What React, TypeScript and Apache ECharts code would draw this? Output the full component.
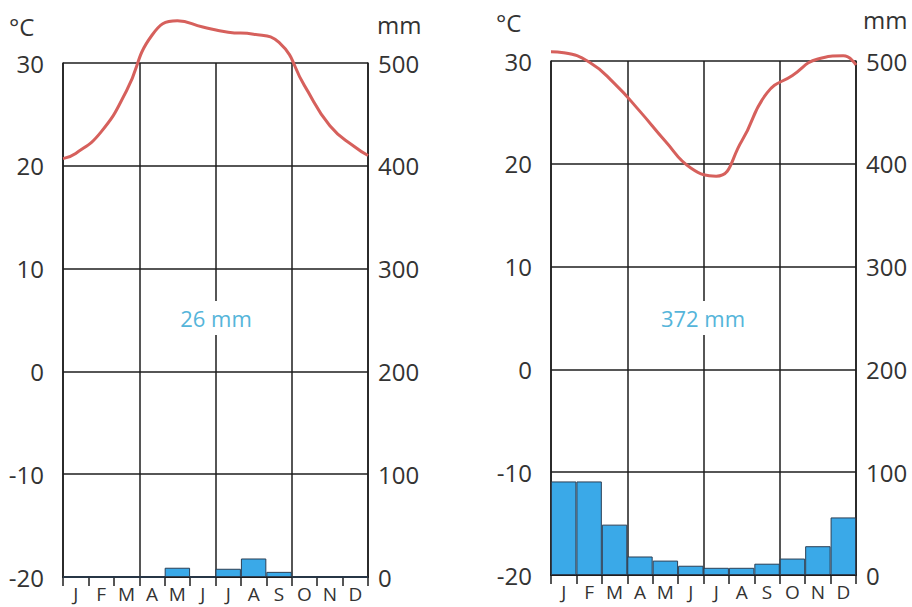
import React, { useEffect, useRef } from 'react';
import * as echarts from 'echarts';

// Month labels (x axis)
const months = ['J', 'F', 'M', 'A', 'M', 'J', 'J', 'A', 'S', 'O', 'N', 'D'];

// Left station: monthly mean temperature (°C) read at month centres, plus curve ends at the plot edges
const tempLeft = [21.2, 23.3, 27.3, 32.7, 34.1, 33.5, 33.0, 32.8, 32.0, 27.8, 23.9, 21.8];
const tempLeftEdges = [20.7, 21.0];
// Left station: monthly precipitation (mm)
const precipLeft = [0, 0, 0, 0, 9, 0, 8, 18, 5, 0, 0, 0];
const totalLeft = '26 mm';

// Right station
const tempRight = [30.8, 29.9, 27.8, 25.1, 22.2, 19.6, 18.8, 22.2, 26.9, 28.6, 30.2, 30.5];
const tempRightEdges = [30.9, 29.6];
const precipRight = [91, 91, 49, 18, 14, 9, 7, 7, 11, 16, 28, 56];
const totalRight = '372 mm';

// Axis ranges
const tempMin = -20;
const tempMax = 30;
const tempStep = 10;
const precipMin = 0;
const precipMax = 500;
const precipStep = 100;

const FONT = '"Open Sans", "Noto Sans", sans-serif';
const TEXT = '#333';
const LINE = '#1e1e1e';

function lineData(vals: number[], edges: number[]) {
  const d: number[][] = [[0, edges[0]]];
  vals.forEach((v, i) => d.push([i + 0.5, v]));
  d.push([12, edges[1]]);
  return d;
}

export default function App() {
  const ref = useRef<HTMLDivElement>(null);
  useEffect(() => {
    document.body.style.margin = '0';
    if (!ref.current) return;
    const chart = echarts.init(ref.current, undefined, { renderer: 'svg' });

    const grids = [
      { left: 63, right: 912 - 368, top: 63, bottom: 607 - 577 },
      { left: 551, right: 912 - 856, top: 61, bottom: 607 - 575 },
    ];
    const yLabelMarginL = [19, 19];
    const yLabelMarginR = [10, 10];

    const xAxes: any[] = [];
    const yAxes: any[] = [];
    grids.forEach((g, gi) => {
      xAxes.push({
        type: 'category',
        gridIndex: gi,
        position: 'bottom',
        data: months,
        boundaryGap: true,
        axisLine: { show: true, onZero: false, lineStyle: { color: LINE, width: 2 } },
        axisTick: { show: true, interval: 0, length: 9, lineStyle: { color: LINE, width: 1.5 } },
        axisLabel: { interval: 0, fontSize: 19, fontFamily: FONT, color: TEXT, margin: 7 },
        splitLine: { show: false },
      });
      xAxes.push({
        type: 'value',
        gridIndex: gi,
        position: 'top',
        min: 0,
        max: 12,
        interval: 3,
        axisLine: { show: false, onZero: false },
        axisTick: { show: false },
        axisLabel: { show: false },
        splitLine: { show: true, lineStyle: { color: LINE, width: 1.5 } },
      });
      yAxes.push({
        type: 'value',
        gridIndex: gi,
        position: 'left',
        min: tempMin,
        max: tempMax,
        interval: tempStep,
        axisLine: { show: true, onZero: false, lineStyle: { color: LINE, width: 1.5 } },
        axisTick: { show: false },
        axisLabel: { fontSize: 24, fontFamily: FONT, color: TEXT, margin: yLabelMarginL[gi] },
        splitLine: { show: true, lineStyle: { color: LINE, width: 1.5 } },
      });
      yAxes.push({
        type: 'value',
        gridIndex: gi,
        position: 'right',
        min: precipMin,
        max: precipMax,
        interval: precipStep,
        axisLine: { show: true, onZero: false, lineStyle: { color: LINE, width: 1.5 } },
        axisTick: { show: false },
        axisLabel: { fontSize: 24, fontFamily: FONT, color: TEXT, margin: yLabelMarginR[gi] },
        splitLine: { show: false },
      });
    });

    const barStyle = { color: '#3aa9e8', borderColor: '#2b3f55', borderWidth: 1 };
    const lineStyle = { color: '#d6605c', width: 3 };

    const series: any[] = [
      {
        type: 'bar', xAxisIndex: 0, yAxisIndex: 1, data: precipLeft,
        barCategoryGap: '0%', itemStyle: barStyle, z: 1,
      },
      {
        type: 'line', xAxisIndex: 1, yAxisIndex: 0, data: lineData(tempLeft, tempLeftEdges),
        smooth: 0.5, showSymbol: false, symbol: 'none', clip: false, lineStyle, z: 5,
      },
      {
        type: 'bar', xAxisIndex: 2, yAxisIndex: 3, data: precipRight,
        barCategoryGap: '0%', itemStyle: barStyle, z: 1,
      },
      {
        type: 'line', xAxisIndex: 3, yAxisIndex: 2, data: lineData(tempRight, tempRightEdges),
        smooth: 0.5, showSymbol: false, symbol: 'none', clip: false, lineStyle, z: 5,
      },
    ];

    const unitStyle = { fontSize: 24, fontFamily: FONT, fill: TEXT };
    const totalStyle = { fontSize: 22, fontFamily: FONT, fill: '#55b5da', align: 'center', verticalAlign: 'middle', backgroundColor: '#fff', padding: [6, 3] };

    chart.setOption({
      animation: false,
      backgroundColor: '#fff',
      grid: grids,
      xAxis: xAxes,
      yAxis: yAxes,
      series,
      graphic: [
        { type: 'text', left: 9, top: 14, z: 100, style: { ...unitStyle, text: '°C' } },
        { type: 'text', left: 377, top: 12, z: 100, style: { ...unitStyle, text: 'mm' } },
        { type: 'text', left: 496, top: 10, z: 100, style: { ...unitStyle, text: '°C' } },
        { type: 'text', left: 863, top: 7, z: 100, style: { ...unitStyle, text: 'mm' } },
        { type: 'text', x: 216, y: 318, z: 100, style: { ...totalStyle, text: totalLeft } },
        { type: 'text', x: 703, y: 318, z: 100, style: { ...totalStyle, text: totalRight } },
      ],
    });
    return () => chart.dispose();
  }, []);
  return <div ref={ref} style={{ width: 912, height: 607 }} />;
}
